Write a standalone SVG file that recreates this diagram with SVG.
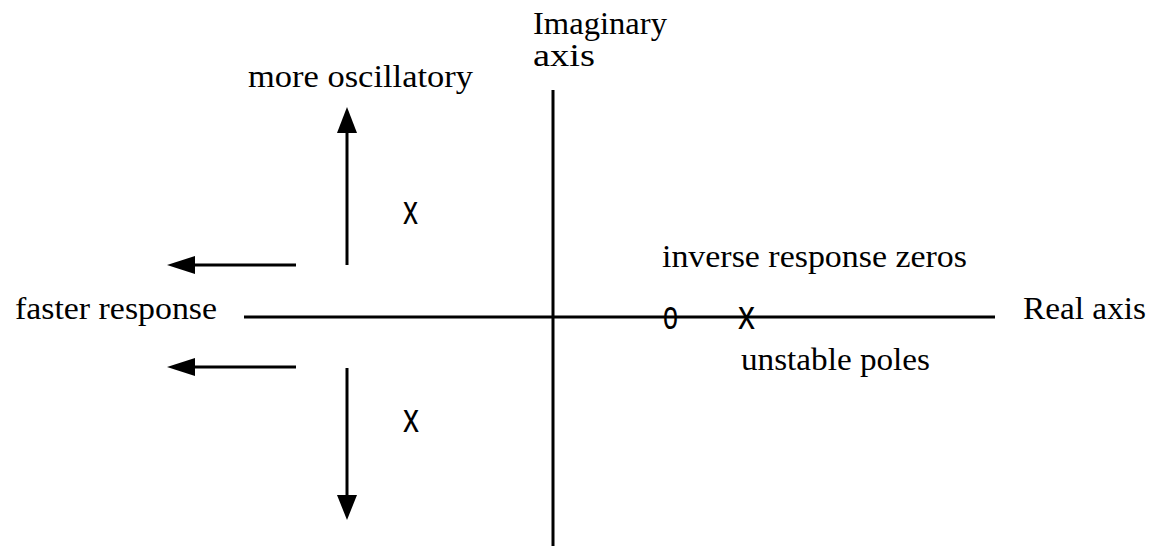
<svg xmlns="http://www.w3.org/2000/svg" width="1152" height="546" viewBox="0 0 1152 546">
<style>
.ln{stroke:#000;stroke-width:3;fill:none}
.t{font-family:"Liberation Serif",serif;font-size:31px;fill:#000}
.s{font-family:"Liberation Sans",sans-serif;font-size:40px;fill:#000}
</style>
<rect width="1152" height="546" fill="#fff"/>
<g id="connectors">
<line class="ln" x1="553" y1="90" x2="553" y2="546"/>
<line class="ln" x1="244" y1="317" x2="995" y2="317"/>
<line class="ln" x1="296" y1="265" x2="193" y2="265"/>
<polygon points="167,265 195,256 195,274" fill="#000"/>
<line class="ln" x1="296" y1="367" x2="193" y2="367"/>
<polygon points="167,367 195,358 195,376" fill="#000"/>
<line class="ln" x1="347" y1="265" x2="347" y2="131"/>
<polygon points="347,107 337,133 357,133" fill="#000"/>
<line class="ln" x1="347" y1="368" x2="347" y2="497"/>
<polygon points="347,520 337,495 357,495" fill="#000"/>
</g>
<g id="imaginary-label"><text class="t" x="533" y="34" textLength="134" lengthAdjust="spacingAndGlyphs">Imaginary</text><text class="t" x="533" y="66" textLength="62" lengthAdjust="spacingAndGlyphs">axis</text></g>
<g id="oscillatory-label"><text class="t" x="248" y="87" textLength="225" lengthAdjust="spacingAndGlyphs">more oscillatory</text></g>
<g id="faster-label"><text class="t" x="15" y="319" textLength="202" lengthAdjust="spacingAndGlyphs">faster response</text></g>
<g id="real-label"><text class="t" x="1023" y="319" textLength="123" lengthAdjust="spacingAndGlyphs">Real axis</text></g>
<g id="zeros-label"><text class="t" x="662" y="267" textLength="305" lengthAdjust="spacingAndGlyphs">inverse response zeros</text></g>
<g id="unstable-label"><text class="t" x="741" y="370" textLength="189" lengthAdjust="spacingAndGlyphs">unstable poles</text></g>
<g id="pole-upper"><text class="s" x="403" y="224" textLength="15" lengthAdjust="spacingAndGlyphs">x</text></g>
<g id="pole-lower"><text class="s" x="403" y="432" textLength="16" lengthAdjust="spacingAndGlyphs">x</text></g>
<g id="zero-rhp"><text class="s" x="663" y="329" textLength="15" lengthAdjust="spacingAndGlyphs">o</text></g>
<g id="pole-rhp"><text class="s" x="738" y="329" textLength="17" lengthAdjust="spacingAndGlyphs">x</text></g>
</svg>
